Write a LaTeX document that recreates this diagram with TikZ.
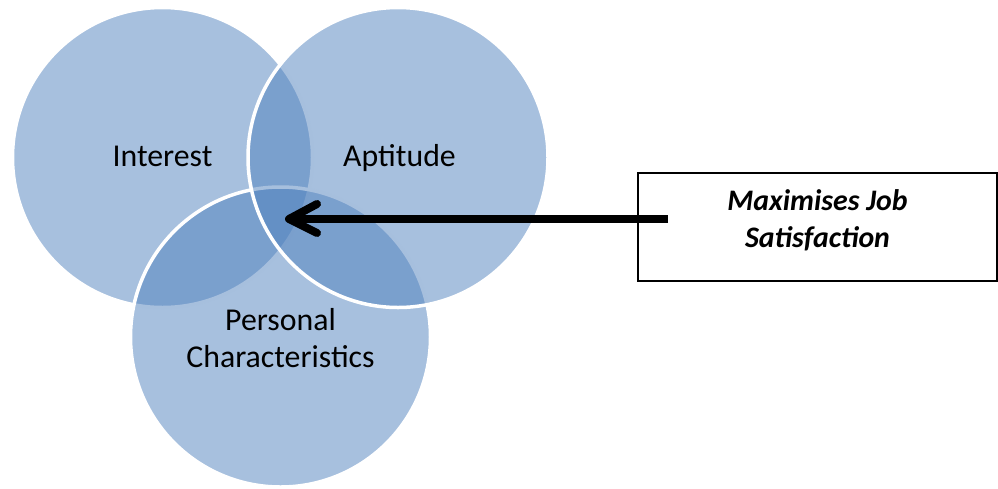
\documentclass[tikz,border=0pt]{standalone}
\usepackage{fontspec}
\setmainfont{Carlito}
\begin{document}
\begin{tikzpicture}[x=1pt,y=-1pt,
  venn/.style={fill={rgb,255:red,79;green,129;blue,189}, fill opacity=0.5,
               draw=white, line width=3.5pt},
  label/.style={font=\fontsize{31.8}{37}\selectfont, anchor=base, inner sep=0pt, text=black},
  callout/.style={draw=black, line width=1.4pt, fill=white, minimum width=359pt,
                  minimum height=108pt, inner sep=0pt},
  calltext/.style={font=\fontsize{29.8}{36}\selectfont\bfseries\itshape, anchor=base, inner sep=0pt},
  pointer/.style={line width=8pt, black}]
\useasboundingbox (0,0) rectangle (998,488);

% three overlapping circles
\coordinate (cI) at (162.5,157.5);
\coordinate (cP) at (280.5,337);
\coordinate (cA) at (398,157.5);
\draw[venn] (cI) circle (150);
\draw[venn] (cP) circle (150);
\draw[venn] (cA) circle (150);

\node[label] (interest) at (162.5,166) {Interest};
\node[label] (aptitude) at (399.5,166) {Aptitude};
\node[label] (personal) at (280.5,330) {Personal};
\node[label] (charac) at (280.5,367) {Characteristics};

% callout box
\node[callout] (box) at (817.5,227) {};
\node[calltext] (t1) at (817.5,210) {Maximises Job};
\node[calltext] (t2) at (817.5,247) {Satisfaction};

% arrow from the box into the centre of the overlap
\coordinate (tail) at (668,219);
\coordinate (tip) at (289,219);
\draw[pointer, line cap=butt] (tail) -- (tip);
\draw[pointer, line cap=round, line join=round]
  ([shift={(28,-15)}]tip) -- (tip) -- ([shift={(28,14)}]tip);
\end{tikzpicture}
\end{document}
